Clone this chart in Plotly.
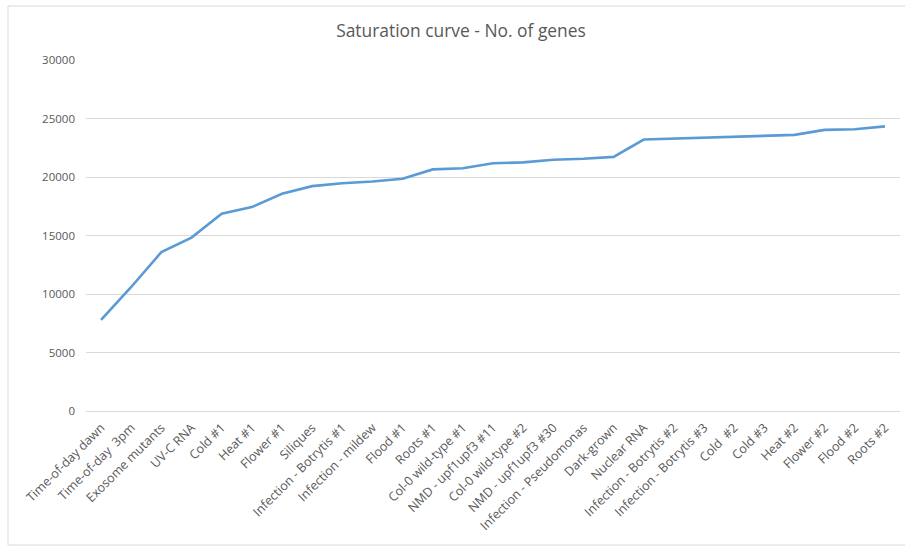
import plotly.graph_objects as go

categories = [
    "Time-of-day dawn", "Time-of-day  3pm", "Exosome mutants", "UV-C RNA",
    "Cold #1", "Heat #1", "Flower #1", "Siliques", "Infection - Botrytis #1",
    "Infection - mildew", "Flood #1", "Roots #1", "Col-0 wild-type #1",
    "NMD - upf1upf3 #11", "Col-0 wild-type #2", "NMD - upf1upf3 #30",
    "Infection - Pseudomonas", "Dark-grown", "Nuclear RNA",
    "Infection - Botrytis #2", "Infection - Botrytis #3", "Cold  #2", "Cold #3",
    "Heat #2", "Flower #2", "Flood #2", "Roots #2",
]
genes = [
    7780, 10600, 13580, 14820, 16870, 17430, 18570, 19220, 19470,
    19620, 19850, 20650, 20750, 21170, 21250, 21480, 21560, 21720, 23200,
    23290, 23380, 23470, 23530, 23600, 24030, 24080, 24330,
]
y_ticks = [0, 5000, 10000, 15000, 20000, 25000, 30000]

W, H = 905, 549
ml, mr, mt, mb = 86, 5, 60, 138

fig = go.Figure()
fig.add_trace(go.Scatter(
    x=categories, y=genes, mode="lines",
    line=dict(color="#5B9BD5", width=2.6),
    showlegend=False, hoverinfo="x+y",
))

font_family = "Open Sans, Noto Sans, sans-serif"
fig.update_layout(
    width=W, height=H,
    margin=dict(l=ml, r=mr, t=mt, b=mb),
    paper_bgcolor="white", plot_bgcolor="white",
    title=dict(text="Saturation curve - No. of genes", x=(461 / W), xanchor="center",
               y=1 - 31 / H, yanchor="middle",
               font=dict(family=font_family, size=17.4, color="#595959")),
    xaxis=dict(
        type="category", range=[-0.5, len(categories) - 0.5],
        tickangle=-45, showgrid=False, zeroline=False, showline=False,
        ticks="", ticklabelstandoff=6,
        tickfont=dict(family=font_family, size=12.5, color="#595959"),
    ),
    yaxis=dict(
        range=[0, 30000], tickvals=y_ticks, ticktext=[str(v) for v in y_ticks],
        showgrid=True, gridcolor="#D9D9D9", gridwidth=1,
        zeroline=True, zerolinecolor="#D9D9D9", zerolinewidth=1,
        showline=False, ticks="", ticklabelstandoff=10,
        tickfont=dict(family=font_family, size=11.5, color="#595959"),
    ),
    font=dict(family=font_family, color="#595959"),
)

# chart border (in paper coords)
pw = W - ml - mr
ph = H - mt - mb
x0 = (8 - ml) / pw
x1 = (W + 5 - ml) / pw
y1 = (H - 6 - mb) / ph
y0 = (H - 545 - mb) / ph
fig.add_shape(type="rect", xref="paper", yref="paper",
              x0=x0, x1=x1, y0=y0, y1=y1,
              line=dict(color="#D9D9D9", width=1), layer="below")

fig.write_html(
    "out.html",
    config={"displayModeBar": False},
    post_script="document.body.style.margin='0';document.body.style.overflow='hidden';",
)
